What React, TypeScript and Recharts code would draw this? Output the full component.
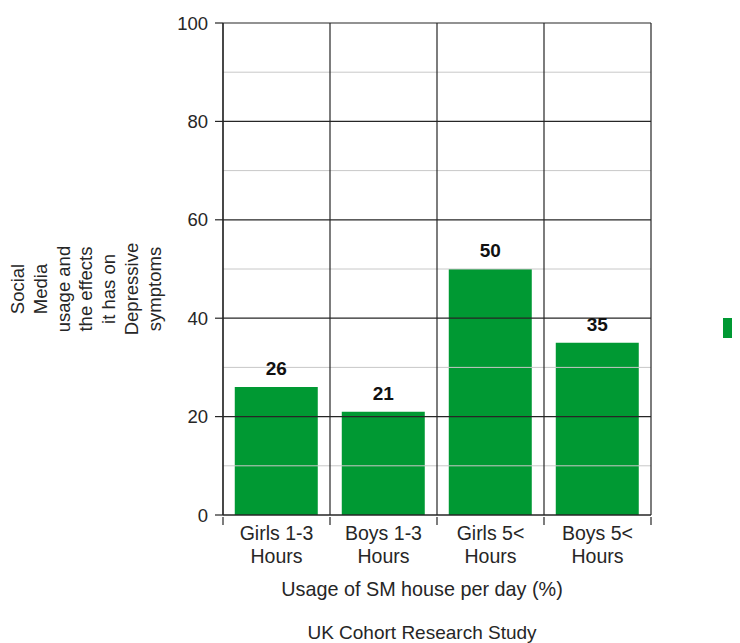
import { BarChart, Bar, XAxis, YAxis, ReferenceLine, LabelList } from 'recharts';

const categories = ['Girls 1-3\nHours', 'Boys 1-3\nHours', 'Girls 5<\nHours', 'Boys 5<\nHours'];
const values = [26, 21, 50, 35];
const majorTicks = [0, 20, 40, 60, 80, 100];
const minorTicks = [10, 30, 50, 70, 90];
const yLabelLines = ['Social', 'Media', 'usage and', 'the effects', 'it has on', 'Depressive', 'symptoms'];
const xLabel = 'Usage of SM house per day (%)';
const title = 'UK Cohort Research Study';

const data = categories.map((name, i) => ({ name, value: values[i] }));

const FONT = '"Liberation Sans", Arial, sans-serif';
const GREEN = '#009933';
const DARK = '#262626';

// labels on two lines, plus tick marks on the band edges
function CategoryTick(props: any) {
  const { x, y, payload, index, visibleTicksCount } = props;
  const lines = String(payload.value).split('\n');
  const half = payload.offset || 0;
  const isLast = index === visibleTicksCount - 1;
  return (
    <g>
      <line x1={x - half} x2={x - half} y1={y} y2={y + 8} stroke={DARK} strokeWidth={1.2} />
      {isLast && <line x1={x + half} x2={x + half} y1={y} y2={y + 8} stroke={DARK} strokeWidth={1.2} />}
      {lines.map((line, i) => (
        <text key={i} x={x} y={y + 23 + i * 23} textAnchor="middle" fontSize={19.5} fill={DARK} fontFamily={FONT}>
          {line}
        </text>
      ))}
    </g>
  );
}

function YLabel() {
  return (
    <g>
      {yLabelLines.map((line, i) => {
        const cx = 9.5 + i * 22.8;
        const cy = 281;
        return (
          <text
            key={i}
            x={cx}
            y={cy}
            transform={`rotate(-90, ${cx}, ${cy})`}
            textAnchor="middle"
            dominantBaseline="central"
            fontSize={18.5}
            fill={DARK}
            fontFamily={FONT}
          >
            {line}
          </text>
        );
      })}
    </g>
  );
}

function Footer() {
  return (
    <g>
      <text x={414} y={588} textAnchor="middle" fontSize={19.8} fill={DARK} fontFamily={FONT}>
        {xLabel}
      </text>
      <text x={414} y={631} textAnchor="middle" fontSize={19} fill={DARK} fontFamily={FONT}>
        {title}
      </text>
      <rect x={715} y={310} width={17} height={20} fill={GREEN} />
    </g>
  );
}

export default function App() {
  return (
    <BarChart
      width={732}
      height={635}
      data={data}
      margin={{ top: 15, right: 89, bottom: 0, left: 0 }}
      barCategoryGap="11%"
    >
      {minorTicks.map((v) => (
        <ReferenceLine key={`mn-${v}`} y={v} stroke="#c8c8c8" strokeWidth={1} />
      ))}
      {majorTicks.map((v) => (
        <ReferenceLine key={`mj-${v}`} y={v} stroke={DARK} strokeWidth={1.2} />
      ))}
      {categories.map((c) => (
        <ReferenceLine key={`vs-${c}`} x={c} position="start" stroke={DARK} strokeWidth={1.2} />
      ))}
      <ReferenceLine x={categories[categories.length - 1]} position="end" stroke={DARK} strokeWidth={1.2} />
      <XAxis
        dataKey="name"
        height={128}
        tickLine={false}
        tickSize={0}
        interval={0}
        stroke={DARK}
        strokeWidth={1.2}
        tick={<CategoryTick />}
        label={{ content: () => <Footer /> }}
      />
      <YAxis
        domain={[0, 100]}
        ticks={majorTicks}
        width={215}
        tickSize={8}
        tickMargin={7}
        stroke={DARK}
        strokeWidth={1.2}
        tick={{ fill: DARK, fontSize: 18.5, fontFamily: FONT }}
        label={{ content: () => <YLabel /> }}
      />
      <Bar dataKey="value" fill={GREEN} isAnimationActive={false}>
        <LabelList
          dataKey="value"
          position="top"
          offset={12}
          fill="#111"
          fontSize={19}
          fontWeight="bold"
          fontFamily={FONT}
        />
      </Bar>
    </BarChart>
  );
}
